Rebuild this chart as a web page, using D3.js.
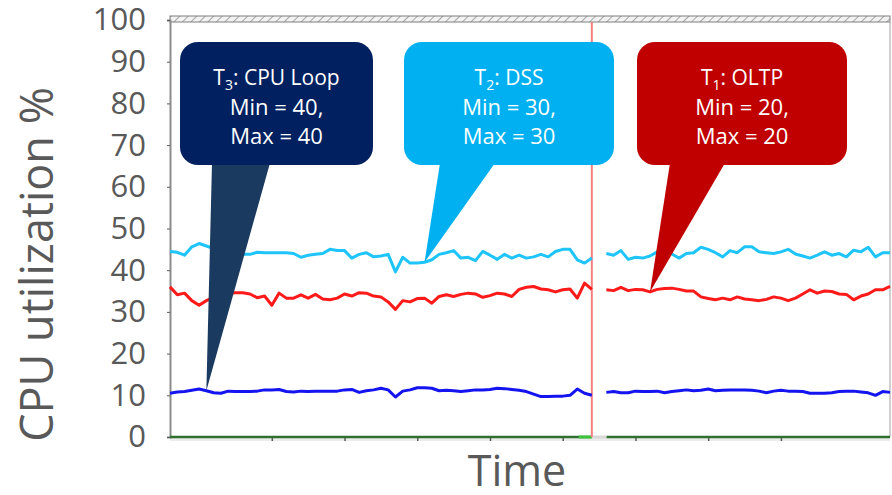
<!DOCTYPE html>
<html>
<head>
<meta charset="utf-8">
<script src="https://cdn.jsdelivr.net/npm/d3@7"></script>
<style>
  body { margin: 0; background: #fff; }
  svg { display: block; font-family: "Open Sans", "Noto Sans", sans-serif; }
</style>
</head>
<body>
<div id="viz"></div>
<script>
// CPU utilization samples per thread (index = time step, null = gap)
var cpuLoop = [10.5, 10.8, 10.9, 11.2, 11.5, 11.1, 10.6, 10.5, 11.0, 10.9,
  10.9, 10.9, 11.0, 11.3, 11.3, 11.4, 10.9, 10.8, 11.0, 10.9,
  11.0, 11.0, 11.0, 11.0, 11.3, 11.4, 10.7, 11.1, 11.3, 11.7,
  11.3, 9.6, 11.0, 11.3, 11.8, 11.8, 11.7, 11.1, 11.2, 11.1,
  10.9, 11.1, 11.3, 11.3, 11.4, 11.7, 11.6, 11.4, 11.2, 10.9,
  10.3, 9.7, 9.7, 9.8, 9.8, 10.0, 11.5, 10.5, 10.0, null,
  10.7, 10.9, 10.6, 10.6, 11.0, 10.9, 10.9, 11.0, 10.6, 10.9,
  11.1, 11.3, 11.1, 11.2, 11.5, 11.1, 11.2, 11.3, 11.3, 11.3,
  11.2, 11.0, 10.6, 11.0, 11.2, 11.0, 11.0, 10.9, 10.5, 10.5,
  10.5, 10.6, 10.9, 11.0, 11.0, 10.8, 10.6, 10.0, 10.9, 10.7];

var dss = [44.5, 44.3, 43.6, 45.6, 46.4, 45.8, 45.2, 44.5, 44.2, 44.2,
  43.8, 43.8, 44.3, 44.2, 44.2, 44.2, 44.2, 44.0, 43.1, 43.6,
  43.8, 44.0, 45.0, 44.7, 44.7, 42.9, 43.8, 44.2, 43.2, 43.4,
  43.8, 39.6, 43.1, 41.7, 41.7, 41.9, 42.5, 43.8, 44.2, 44.7,
  42.9, 43.1, 42.3, 44.5, 43.6, 42.6, 43.8, 42.9, 43.6, 42.9,
  43.2, 43.8, 43.2, 44.5, 45.0, 45.0, 42.5, 41.7, 42.9, null,
  44.0, 43.6, 44.7, 42.6, 43.1, 42.9, 43.4, 44.4, 44.7, 43.9,
  42.9, 44.0, 44.2, 45.5, 45.0, 44.2, 43.2, 44.7, 44.2, 45.6,
  45.6, 44.4, 44.2, 44.0, 44.4, 45.0, 43.9, 43.4, 42.9, 43.6,
  44.4, 43.6, 44.0, 43.2, 44.8, 44.4, 45.5, 43.2, 44.2, 44.2];

var oltp = [36.0, 34.1, 34.5, 32.7, 31.6, 32.7, 33.5, 34.0, 34.5, 34.6,
  34.6, 34.3, 33.4, 33.8, 31.6, 34.5, 33.3, 33.3, 34.1, 33.3,
  34.2, 33.1, 32.9, 33.3, 34.3, 33.8, 34.6, 34.5, 33.8, 33.6,
  32.4, 30.6, 32.7, 32.4, 33.2, 33.3, 32.1, 33.7, 34.1, 33.7,
  34.2, 34.5, 34.3, 33.5, 33.9, 34.5, 34.3, 33.7, 35.4, 35.9,
  36.1, 35.5, 35.3, 34.8, 35.3, 35.5, 33.3, 36.9, 35.4, null,
  35.3, 35.1, 35.9, 35.1, 35.4, 35.3, 34.8, 35.4, 35.6, 35.7,
  35.4, 35.0, 35.0, 33.6, 33.2, 32.9, 33.3, 32.9, 33.6, 33.1,
  32.9, 32.7, 33.0, 33.6, 33.3, 32.7, 33.3, 34.3, 35.3, 34.5,
  35.0, 34.9, 34.3, 34.2, 32.9, 33.8, 34.3, 35.3, 35.3, 36.1];

var yTicks = [0, 10, 20, 30, 40, 50, 60, 70, 80, 90, 100];
var xTicks = [14, 24, 34, 44, 54, 64, 74, 84];
var markerTime = 58;

// callouts: series, sample it points at, title, subscript, min/max
var callouts = [
  { series: "cpuLoop", at: 5, title: "T", sub: "3", rest: ": CPU Loop", min: 40, max: 40 },
  { series: "dss", at: 35, title: "T", sub: "2", rest: ": DSS", min: 30, max: 30 },
  { series: "oltp", at: 66, title: "T", sub: "1", rest: ": OLTP", min: 20, max: 20 }
];

var width = 892, height = 495;
var plot = { left: 170, right: 890, top: 20, bottom: 437 };

var svg = d3.select("#viz").append("svg")
  .attr("width", width)
  .attr("height", height);

var x = d3.scaleLinear().domain([0, cpuLoop.length - 1]).range([plot.left, plot.right]);
var y = d3.scaleLinear().domain([0, 100]).range([plot.bottom, plot.top]);

// hatched top band
var defs = svg.append("defs");
var pat = defs.append("pattern")
  .attr("id", "hatch")
  .attr("width", 6).attr("height", 6)
  .attr("patternUnits", "userSpaceOnUse")
  .attr("patternTransform", "rotate(45)");
pat.append("rect").attr("width", 6).attr("height", 6).attr("fill", "#f2f2f2");
pat.append("line").attr("x1", 0).attr("y1", 0).attr("x2", 0).attr("y2", 6)
  .attr("stroke", "#a6a6a6").attr("stroke-width", 2);

svg.append("rect")
  .attr("x", plot.left).attr("y", plot.top - 4)
  .attr("width", plot.right - plot.left).attr("height", 6)
  .attr("fill", "url(#hatch)")
  .attr("stroke", "#7f7f7f").attr("stroke-width", 1);

// right border
svg.append("line")
  .attr("x1", plot.right).attr("x2", plot.right)
  .attr("y1", plot.top + 2).attr("y2", plot.bottom)
  .attr("stroke", "#a0a0a0");

// grey band under the x axis
svg.append("rect")
  .attr("x", plot.left).attr("y", plot.bottom)
  .attr("width", plot.right - plot.left).attr("height", 4)
  .attr("fill", "#ececec");

// x axis ticks (no labels)
var xAxis = svg.append("g")
  .attr("transform", "translate(0," + plot.bottom + ")")
  .call(d3.axisBottom(x).tickValues(xTicks).tickSize(4).tickFormat(""));
xAxis.select(".domain").remove();
xAxis.selectAll("line").attr("stroke", "#595959").attr("stroke-width", 1.5);

// y axis
var yAxis = svg.append("g")
  .attr("transform", "translate(" + plot.left + ",0)")
  .call(d3.axisLeft(y).tickValues(yTicks).tickSize(3).tickPadding(21));
yAxis.select(".domain").attr("stroke", "#8c8c8c").attr("stroke-width", 2);
yAxis.selectAll("line").attr("stroke", "#595959");
yAxis.selectAll("text")
  .attr("fill", "#595959")
  .style("font-size", "31px")
  .style("font-family", "'Open Sans', sans-serif");

// baseline series at 0
var line = d3.line()
  .defined(function (d) { return d != null; })
  .x(function (d, i) { return x(i); })
  .y(function (d) { return y(d); });

var zeroLine = cpuLoop.map(function (d) { return d == null ? null : 0; });
svg.append("path")
  .datum(zeroLine)
  .attr("d", line)
  .attr("fill", "none")
  .attr("stroke", "#2f6f2f")
  .attr("stroke-width", 2.5);
svg.append("line")
  .attr("x1", x(markerTime - 1.8)).attr("x2", x(markerTime))
  .attr("y1", y(0)).attr("y2", y(0))
  .attr("stroke", "#3cc43c").attr("stroke-width", 3);
svg.append("line")
  .attr("x1", x(markerTime)).attr("x2", x(markerTime + 2))
  .attr("y1", y(0)).attr("y2", y(0))
  .attr("stroke", "#d9d9d9").attr("stroke-width", 3);

// marker line
svg.append("line")
  .attr("x1", x(markerTime)).attr("x2", x(markerTime))
  .attr("y1", plot.top + 2).attr("y2", plot.bottom)
  .attr("stroke", "#f48080")
  .attr("stroke-width", 2);

var series = { cpuLoop: cpuLoop, dss: dss, oltp: oltp };
var colors = { cpuLoop: "#1414f0", dss: "#1ec4fa", oltp: "#ff1a1a" };

["dss", "oltp", "cpuLoop"].forEach(function (k) {
  svg.append("path")
    .datum(series[k])
    .attr("class", "line")
    .attr("d", line)
    .attr("fill", "none")
    .attr("stroke", colors[k])
    .attr("stroke-width", 3)
    .attr("stroke-linejoin", "round");
});

// callout boxes
var boxW = 210, boxH = 123, boxTop = 42;
var boxLeft = [180, 404, 637];
var boxFill = ["#002060", "#00b0f0", "#c00000"];
var tailFill = ["#1b3a60", "#00b0f0", "#c00000"];
var tailBase = [[32, 90], [36, 91], [33, 88]];

callouts.forEach(function (c, i) {
  var g = svg.append("g");
  var tipX = x(c.at), tipY = y(series[c.series][c.at]);
  var bx = boxLeft[i];
  var w = i == 0 ? 193 : boxW;
  g.append("path")
    .attr("d", "M" + (bx + tailBase[i][0]) + "," + (boxTop + boxH - 2) +
      "L" + tipX + "," + tipY +
      "L" + (bx + tailBase[i][1]) + "," + (boxTop + boxH - 2) + "Z")
    .attr("fill", tailFill[i]);
  g.append("rect")
    .attr("x", bx).attr("y", boxTop)
    .attr("width", w).attr("height", boxH)
    .attr("rx", 18).attr("ry", 18)
    .attr("fill", boxFill[i]);

  var cx = bx + w / 2;
  var t = g.append("text")
    .attr("x", cx).attr("y", 85)
    .attr("text-anchor", "middle")
    .attr("fill", "#fff")
    .style("font-size", "21px");
  t.append("tspan").text(c.title);
  t.append("tspan").attr("dy", 5).style("font-size", "14px").text(c.sub);
  t.append("tspan").attr("dy", -5).text(c.rest);

  g.append("text")
    .attr("x", cx).attr("y", 115)
    .attr("text-anchor", "middle")
    .attr("fill", "#fff")
    .style("font-size", "22px")
    .text("Min = " + c.min + ",");
  g.append("text")
    .attr("x", cx).attr("y", 144)
    .attr("text-anchor", "middle")
    .attr("fill", "#fff")
    .style("font-size", "22px")
    .text("Max = " + c.max);
});

// axis titles
svg.append("text")
  .attr("transform", "translate(53," + ((plot.top + plot.bottom) / 2 + 36) + ") rotate(-90)")
  .attr("text-anchor", "middle")
  .attr("fill", "#595959")
  .style("font-size", "45px")
  .text("CPU utilization %");

svg.append("text")
  .attr("x", 517)
  .attr("y", 486)
  .attr("text-anchor", "middle")
  .attr("fill", "#595959")
  .style("font-size", "43px")
  .text("Time");
</script>
</body>
</html>
